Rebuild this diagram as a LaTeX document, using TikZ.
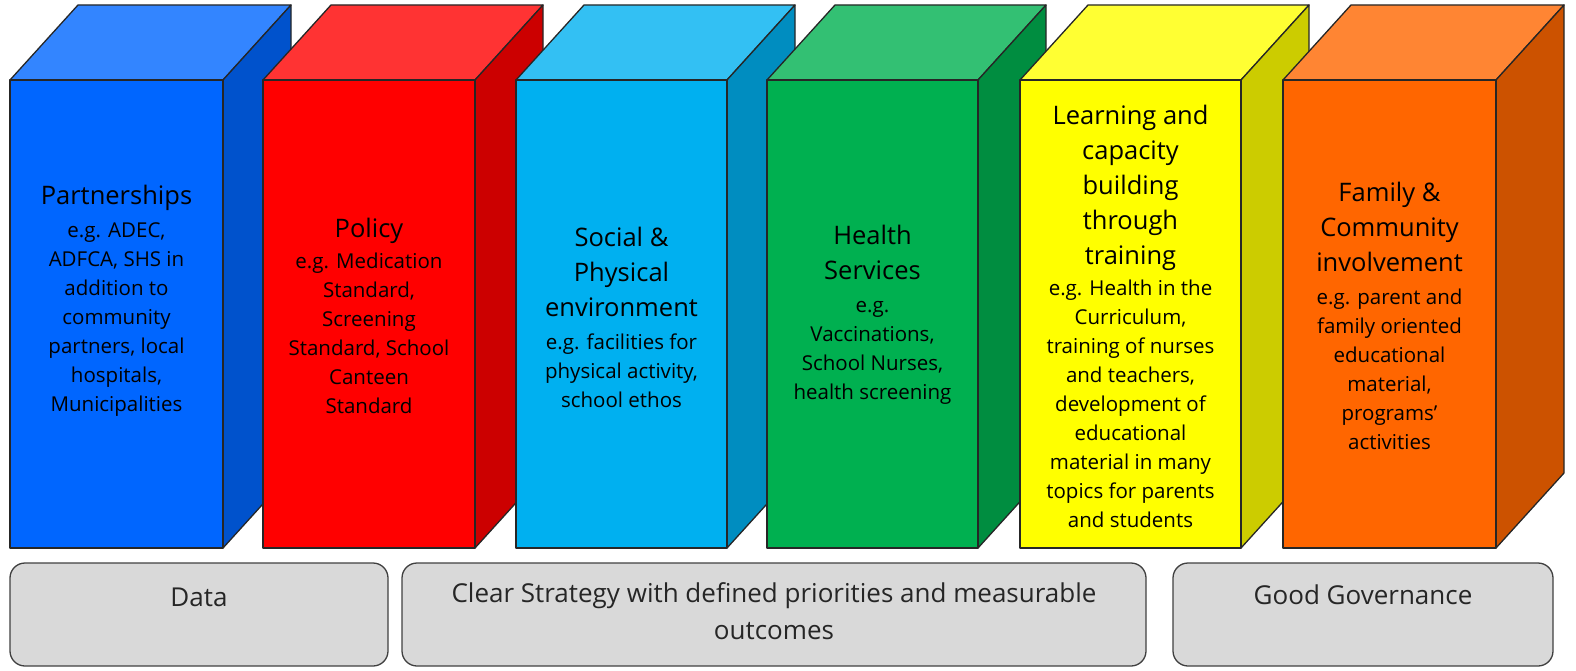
\documentclass[tikz,border=0pt]{standalone}
\usepackage{fontspec}
\setmainfont{Open Sans}
\definecolor{cBlue}{HTML}{0066FF}
\definecolor{cRed}{HTML}{FF0000}
\definecolor{cLBlue}{HTML}{00B0F0}
\definecolor{cGreen}{HTML}{00B050}
\definecolor{cYellow}{HTML}{FFFF00}
\definecolor{cOrange}{HTML}{FF6600}
\definecolor{cGray}{HTML}{D9D9D9}
\newcommand{\pillarbox}[4]{%
  \filldraw[fill=#4!80!white, facestyle] (#2,80) -- (#2+68,5) -- (#3+68,5) -- (#3,80) -- cycle;
  \filldraw[fill=#4!80!black, facestyle] (#3,80) -- (#3+68,5) -- (#3+68,473) -- (#3,548) -- cycle;
  \node[facestyle, fill=#4, minimum width=#3-#2, minimum height=468, inner sep=0pt] (#1) at ({(#2+#3)/2},314) {};
}
\newcommand{\ttl}[1]{{\fontsize{25.5}{29}\selectfont #1}}
\tikzset{
  facestyle/.style={draw=black!85, line width=1.3pt, line join=round},
  pillartext/.style={align=center, font=\fontsize{20.5}{29}\selectfont, text=black, inner sep=0pt},
  basebox/.style={draw=black!75, line width=1.3pt, fill=cGray, rounded corners=15pt, inner sep=0pt},
  basetext/.style={align=center, font=\fontsize{26}{37}\selectfont, text=black!85, inner sep=0pt}
}
\begin{document}
\begin{tikzpicture}[x=1pt,y=-1pt]
\useasboundingbox (0,0) rectangle (1576,671);
\pillarbox{p1}{10}{223}{cBlue}
\pillarbox{p2}{263}{475}{cRed}
\pillarbox{p3}{516}{727}{cLBlue}
\pillarbox{p4}{767}{978}{cGreen}
\pillarbox{p5}{1020}{1241}{cYellow}
\pillarbox{p6}{1283}{1496}{cOrange}

\node[pillartext] (t1) at (116.5,301) {\ttl{Partnerships}\\[4pt] e.g. ADEC,\\ ADFCA, SHS in\\ addition to\\ community\\ partners, local\\ hospitals,\\ Municipalities};
\node[pillartext] (t2) at (369,316) {\ttl{Policy}\\[2pt] e.g. Medication\\ Standard,\\ Screening\\ Standard, School\\ Canteen\\ Standard};
\node[pillartext] (t3) at (621.5,317) {\ttl{Social \&}\\[6pt] \ttl{Physical}\\[6pt] \ttl{environment}\\[4pt] e.g. facilities for\\ physical activity,\\ school ethos};
\node[pillartext] (t4) at (872.5,315) {\ttl{Health}\\[6pt] \ttl{Services}\\[4pt] e.g.\\ Vaccinations,\\ School Nurses,\\ health screening};
\node[pillartext] (t5) at (1130.5,316) {\ttl{Learning and}\\[6pt] \ttl{capacity}\\[6pt] \ttl{building}\\[6pt] \ttl{through}\\[6pt] \ttl{training}\\[2pt] e.g. Health in the\\ Curriculum,\\ training of nurses\\ and teachers,\\ development of\\ educational\\ material in many\\ topics for parents\\ and students};
\node[pillartext] (t6) at (1389.5,316) {\ttl{Family \&}\\[6pt] \ttl{Community}\\[6pt] \ttl{involvement}\\[4pt] e.g. parent and\\ family oriented\\ educational\\ material,\\ programs'\\ activities};

\node[basebox, minimum width=378, minimum height=103] (b1) at (199,614.5) {};
\node[basebox, minimum width=744, minimum height=103] (b2) at (774,614.5) {};
\node[basebox, minimum width=380, minimum height=103] (b3) at (1363,614.5) {};
\node[basetext] (d1) at (199,597) {Data};
\node[basetext] (d2) at (774,611) {Clear Strategy with defined priorities and measurable\\ outcomes};
\node[basetext] (d3) at (1363,595) {Good Governance};
\end{tikzpicture}
\end{document}
